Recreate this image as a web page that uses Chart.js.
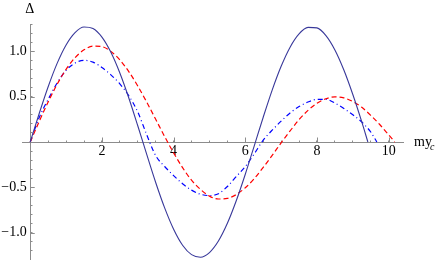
<!DOCTYPE html>
<html>
<head>
<meta charset="utf-8">
<script src="https://cdn.jsdelivr.net/npm/chart.js@4.4.1/dist/chart.umd.min.js"></script>
<style>
html, body { margin: 0; padding: 0; background: #fff; }
#wrap { width: 436px; height: 260px; }
</style>
</head>
<body>
<div id="wrap"><canvas id="plot"></canvas></div>
<script>
// values
const xSolid = [0, 0.25, 0.5, 0.75, 1, 1.25, 1.5, 1.75, 2, 2.25, 2.5, 2.75, 3, 3.25, 3.5, 3.75, 4, 4.25, 4.5, 4.75,
  5, 5.25, 5.5, 5.75, 6, 6.25, 6.5, 6.75, 7, 7.25, 7.5, 7.75, 8, 8.25, 8.5, 8.75, 9, 9.25, 9.42];
const ySolid = [0, 0.314, 0.609, 0.866, 1.069, 1.205, 1.267, 1.25, 1.155, 0.988, 0.76, 0.485, 0.179, -0.137, -0.446,
  -0.726, -0.961, -1.137, -1.241, -1.269, -1.218, -1.091, -0.896, -0.645, -0.355, -0.042, 0.273, 0.572, 0.834, 1.045,
  1.191, 1.263, 1.257, 1.172, 1.014, 0.793, 0.523, 0.221, 0];

const xRed = [0, 0.25, 0.5, 0.75, 1, 1.25, 1.5, 1.75, 2, 2.25, 2.5, 2.75, 3, 3.25, 3.5, 3.75, 4, 4.25, 4.5, 4.75,
  5, 5.25, 5.5, 5.75, 6, 6.25, 6.5, 6.75, 7, 7.25, 7.5, 7.75, 8, 8.25, 8.5, 8.75, 9, 9.25, 9.5, 9.75, 10, 10.17];
const yRed = [0, 0.226, 0.441, 0.636, 0.801, 0.929, 1.015, 1.056, 1.05, 0.998, 0.905, 0.775, 0.617, 0.439, 0.25, 0.06,
  -0.12, -0.282, -0.421, -0.522, -0.596, -0.628, -0.621, -0.579, -0.504, -0.404, -0.28, -0.147, -0.009, 0.122, 0.246,
  0.349, 0.427, 0.477, 0.497, 0.486, 0.446, 0.382, 0.294, 0.193, 0.079, 0];

const xBlue = [0, 0.25, 0.5, 0.75, 1, 1.25, 1.5, 1.75, 2, 2.25, 2.5, 2.75, 3, 3.25, 3.5, 3.75, 4, 4.25, 4.5, 4.75,
  5, 5.25, 5.5, 5.75, 6, 6.25, 6.5, 6.75, 7, 7.25, 7.5, 7.75, 8, 8.25, 8.5, 8.75, 9, 9.25, 9.5, 9.67];
const yBlue = [0, 0.27, 0.47, 0.65, 0.79, 0.87, 0.9, 0.88, 0.82, 0.74, 0.64, 0.51, 0.33, 0.08, -0.15, -0.27, -0.37,
  -0.46, -0.53, -0.575, -0.59, -0.57, -0.49, -0.38, -0.27, -0.13, 0.02, 0.13, 0.23, 0.32, 0.39, 0.44, 0.47, 0.47,
  0.43, 0.37, 0.3, 0.22, 0.11, 0];

const xMajor = [2, 4, 6, 8, 10];
const yMajor = [-1, -0.5, 0.5, 1];
const xMinorStep = 0.5;
const yMinorStep = 0.1;

const axisGray = '#8c8c8c';
const tickFont = { family: 'Liberation Serif', size: 14 };

function pts(xs, ys) {
  return xs.map((x, i) => ({ x: x, y: ys[i] }));
}

function stepTicks(from, to, step) {
  const out = [];
  for (let i = Math.ceil(from / step - 1e-9); i * step <= to + 1e-9; i++) {
    out.push({ value: Math.round(i * step * 100) / 100 });
  }
  return out;
}

const isMajor = (list, v) => list.some(m => Math.abs(m - v) < 1e-6);

// longer marks at labelled ticks, plus the axis names
const extras = {
  id: 'extras',
  afterDraw(chart) {
    const c = chart.ctx;
    const sx = chart.scales.x, sy = chart.scales.y;
    const x0 = sx.getPixelForValue(0), y0 = sy.getPixelForValue(0);
    c.save();
    c.strokeStyle = axisGray;
    c.lineWidth = 1;
    c.beginPath();
    xMajor.forEach(v => {
      const px = Math.round(sx.getPixelForValue(v)) + 0.5;
      c.moveTo(px, y0); c.lineTo(px, y0 - 4.5);
    });
    yMajor.forEach(v => {
      const py = Math.round(sy.getPixelForValue(v)) + 0.5;
      c.moveTo(x0, py); c.lineTo(x0 + 4.5, py);
    });
    c.stroke();

    c.fillStyle = '#000';
    c.textBaseline = 'alphabetic';
    c.textAlign = 'center';
    c.font = '14px "Liberation Serif"';
    c.fillText('Δ', x0 - 0.5, 13);
    c.textAlign = 'left';
    c.fillText('my', 414, y0 + 4);
    c.font = 'italic 10px "Liberation Serif"';
    c.fillText('c', 430, y0 + 8);
    c.restore();
  }
};

new Chart(document.getElementById('plot'), {
  type: 'line',
  data: {
    datasets: [
      {
        data: pts(xSolid, ySolid),
        borderColor: '#38389a',
        borderWidth: 1.1
      },
      {
        data: pts(xRed, yRed),
        borderColor: '#ff0000',
        borderWidth: 1.2,
        borderDash: [5, 3]
      },
      {
        data: pts(xBlue, yBlue),
        borderColor: '#0000ff',
        borderWidth: 1.2,
        borderDash: [5, 3, 1, 3]
      }
    ]
  },
  options: {
    responsive: true,
    maintainAspectRatio: false,
    animation: false,
    layout: { padding: { left: 22, right: 33, top: 24, bottom: 0 } },
    elements: {
      point: { radius: 0 },
      line: { cubicInterpolationMode: 'monotone', fill: false }
    },
    plugins: { legend: { display: false }, tooltip: { enabled: false } },
    scales: {
      x: {
        type: 'linear',
        min: -0.23,
        max: 10.4,
        position: { y: 0 },
        afterBuildTicks: s => { s.ticks = stepTicks(0, 10, xMinorStep); },
        // axes sit inside the plot, so they should not take layout room
        afterFit: s => { s.height = 0; s.paddingLeft = 0; s.paddingRight = 0; },
        grid: { drawOnChartArea: false, drawTicks: true, tickLength: -2.5, color: axisGray },
        border: { color: axisGray, width: 1 },
        ticks: {
          autoSkip: false,
          maxRotation: 0,
          padding: 3,
          color: '#000',
          font: tickFont,
          callback: v => isMajor(xMajor, v) ? String(v) : ''
        }
      },
      y: {
        type: 'linear',
        min: -1.3,
        max: 1.3,
        position: { x: 0 },
        afterBuildTicks: s => { s.ticks = stepTicks(-1.3, 1.3, yMinorStep); },
        afterFit: s => { s.width = 0; s.paddingTop = 0; s.paddingBottom = 0; },
        grid: { drawOnChartArea: false, drawTicks: true, tickLength: -2.5, color: axisGray },
        border: { color: axisGray, width: 1 },
        ticks: {
          autoSkip: false,
          color: '#000',
          font: tickFont,
          // trailing space keeps the label off the axis line
          callback: v => isMajor(yMajor, v) ? v.toFixed(1).replace('-', '\u2212') + ' ' : ''
        }
      }
    }
  },
  plugins: [extras]
});
</script>
</body>
</html>
